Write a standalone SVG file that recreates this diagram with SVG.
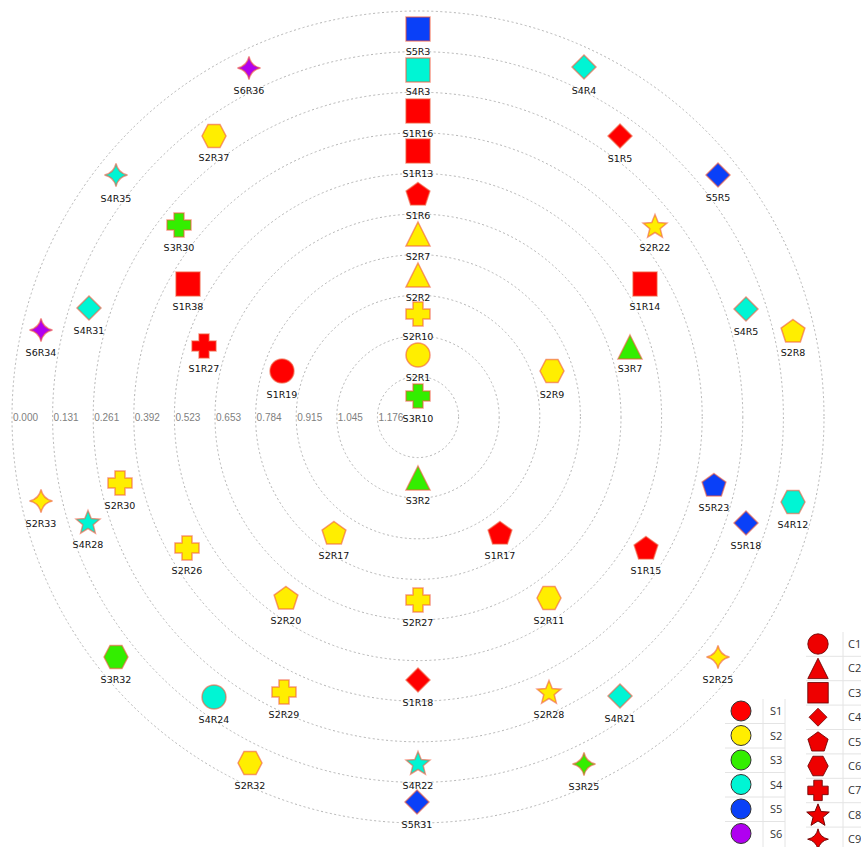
<svg xmlns="http://www.w3.org/2000/svg" width="861" height="847" viewBox="0 0 861 847">
<style>
.ring{fill:none;stroke:#b4b4b4;stroke-width:1;stroke-dasharray:2 2.5}
.tick{font-family:"Liberation Sans",Arial,sans-serif;font-size:10px;fill:#808080}
.lbl{font-family:"DejaVu Sans",Verdana,sans-serif;font-size:9.5px;fill:#111;text-anchor:middle}
.n{stroke:#f05a3c;stroke-opacity:0.6;stroke-width:1.5}
.s1{fill:#ff0000}.s2{fill:#ffee00}.s3{fill:#33ee00}.s4{fill:#00f5d4}.s5{fill:#0a40f8}.s6{fill:#b000f0}
.lg{stroke:#333;stroke-width:1}
.lc{fill:#ee0000;stroke:#6a0000;stroke-width:1}
.lt{font-family:"Open Sans","Liberation Sans",sans-serif;font-size:11px;fill:#333}
.grid{stroke:#e4e4e4;stroke-width:1}
</style>
<defs>
<circle id="c1" r="12"/>
<path id="c2" d="M0,-12 L12,12 L-12,12 Z"/>
<rect id="c3" x="-12" y="-12" width="24" height="24"/>
<path id="c4" d="M0,-12 L12,0 L0,12 L-12,0 Z"/>
<path id="c5" d="M0,-11.5 L11.9,-2.9 L7.35,11.1 L-7.35,11.1 L-11.9,-2.9 Z"/>
<path id="c6" d="M-12,0 L-6,-11.5 L6,-11.5 L12,0 L6,11.5 L-6,11.5 Z"/>
<path id="c7" d="M-5,-12 H5 V-5 H12 V5 H5 V12 H-5 V5 H-12 V-5 H-5 Z"/>
<path id="c8" d="M0,-11.5 L3.23,-3.45 L11.89,-2.86 L5.23,2.7 L7.35,11.11 L0,6.5 L-7.35,11.11 L-5.23,2.7 L-11.89,-2.86 L-3.23,-3.45 Z"/>
<path id="c9" d="M0,-11.5 Q2,-2 11.5,0 Q2,2 0,11.5 Q-2,2 -11.5,0 Q-2,-2 0,-11.5 Z"/>
</defs>
<rect width="861" height="847" fill="#fff"/>
<g id="rings">
<circle class="ring" cx="418" cy="417" r="40.6"/>
<circle class="ring" cx="418" cy="417" r="81.2"/>
<circle class="ring" cx="418" cy="417" r="121.8"/>
<circle class="ring" cx="418" cy="417" r="162.4"/>
<circle class="ring" cx="418" cy="417" r="203"/>
<circle class="ring" cx="418" cy="417" r="243.6"/>
<circle class="ring" cx="418" cy="417" r="284.2"/>
<circle class="ring" cx="418" cy="417" r="324.8"/>
<circle class="ring" cx="418" cy="417" r="365.4"/>
<circle class="ring" cx="418" cy="417" r="406"/>
</g>
<g id="ticks">
<text class="tick" x="13" y="421">0.000</text>
<text class="tick" x="53.6" y="421">0.131</text>
<text class="tick" x="94.2" y="421">0.261</text>
<text class="tick" x="134.8" y="421">0.392</text>
<text class="tick" x="175.4" y="421">0.523</text>
<text class="tick" x="216" y="421">0.653</text>
<text class="tick" x="256.6" y="421">0.784</text>
<text class="tick" x="297.2" y="421">0.915</text>
<text class="tick" x="337.8" y="421">1.045</text>
<text class="tick" x="378.4" y="421">1.176</text>
</g>
<g id="connectors"></g>
<g id="nodes">
<g id="S5R3"><use href="#c3" x="418" y="29" class="n s5"/><text class="lbl" x="418" y="55">S5R3</text></g>
<g id="S4R3"><use href="#c3" x="418" y="70" class="n s4"/><text class="lbl" x="418" y="95">S4R3</text></g>
<g id="S1R16"><use href="#c3" x="418" y="111" class="n s1"/><text class="lbl" x="418" y="137">S1R16</text></g>
<g id="S1R13"><use href="#c3" x="418" y="151" class="n s1"/><text class="lbl" x="418" y="177">S1R13</text></g>
<g id="S1R6"><use href="#c5" x="418" y="194" class="n s1"/><text class="lbl" x="418" y="219">S1R6</text></g>
<g id="S2R7"><use href="#c2" x="418" y="234" class="n s2"/><text class="lbl" x="418" y="260">S2R7</text></g>
<g id="S2R2"><use href="#c2" x="418" y="275" class="n s2"/><text class="lbl" x="418" y="301">S2R2</text></g>
<g id="S2R10"><use href="#c7" x="418" y="314" class="n s2"/><text class="lbl" x="418" y="340">S2R10</text></g>
<g id="S2R1"><use href="#c1" x="418" y="355" class="n s2"/><text class="lbl" x="418" y="381">S2R1</text></g>
<g id="S3R10"><use href="#c7" x="418" y="396" class="n s3"/><text class="lbl" x="418" y="422">S3R10</text></g>
<g id="S3R2"><use href="#c2" x="418" y="478" class="n s3"/><text class="lbl" x="418" y="504">S3R2</text></g>
<g id="S1R17"><use href="#c5" x="500" y="533" class="n s1"/><text class="lbl" x="500" y="559">S1R17</text></g>
<g id="S2R17"><use href="#c5" x="334" y="533" class="n s2"/><text class="lbl" x="334" y="559">S2R17</text></g>
<g id="S2R27"><use href="#c7" x="418" y="600" class="n s2"/><text class="lbl" x="418" y="626">S2R27</text></g>
<g id="S2R20"><use href="#c5" x="286" y="598" class="n s2"/><text class="lbl" x="286" y="624">S2R20</text></g>
<g id="S2R11"><use href="#c6" x="549" y="598" class="n s2"/><text class="lbl" x="549" y="624">S2R11</text></g>
<g id="S1R18"><use href="#c4" x="418" y="680" class="n s1"/><text class="lbl" x="418" y="706">S1R18</text></g>
<g id="S2R29"><use href="#c7" x="284" y="692" class="n s2"/><text class="lbl" x="284" y="718">S2R29</text></g>
<g id="S4R24"><use href="#c1" x="214" y="697" class="n s4"/><text class="lbl" x="214" y="723">S4R24</text></g>
<g id="S2R28"><use href="#c8" x="549" y="692" class="n s2"/><text class="lbl" x="549" y="718">S2R28</text></g>
<g id="S4R21"><use href="#c4" x="620" y="696" class="n s4"/><text class="lbl" x="620" y="722">S4R21</text></g>
<g id="S4R22"><use href="#c8" x="418" y="763" class="n s4"/><text class="lbl" x="418" y="789">S4R22</text></g>
<g id="S5R31"><use href="#c4" x="417" y="802" class="n s5"/><text class="lbl" x="417" y="828">S5R31</text></g>
<g id="S2R32"><use href="#c6" x="250" y="763" class="n s2"/><text class="lbl" x="250" y="789">S2R32</text></g>
<g id="S3R25"><use href="#c9" x="584" y="764" class="n s3"/><text class="lbl" x="584" y="790">S3R25</text></g>
<g id="S3R32"><use href="#c6" x="116" y="657" class="n s3"/><text class="lbl" x="116" y="683">S3R32</text></g>
<g id="S2R25"><use href="#c9" x="718" y="657" class="n s2"/><text class="lbl" x="718" y="683">S2R25</text></g>
<g id="S2R26"><use href="#c7" x="187" y="548" class="n s2"/><text class="lbl" x="187" y="574">S2R26</text></g>
<g id="S1R15"><use href="#c5" x="646" y="548" class="n s1"/><text class="lbl" x="646" y="574">S1R15</text></g>
<g id="S2R30"><use href="#c7" x="120" y="483" class="n s2"/><text class="lbl" x="120" y="509">S2R30</text></g>
<g id="S4R28"><use href="#c8" x="88" y="522" class="n s4"/><text class="lbl" x="88" y="548">S4R28</text></g>
<g id="S2R33"><use href="#c9" x="41" y="501" class="n s2"/><text class="lbl" x="41" y="527">S2R33</text></g>
<g id="S6R34"><use href="#c9" x="41" y="330" class="n s6"/><text class="lbl" x="41" y="356">S6R34</text></g>
<g id="S4R31"><use href="#c4" x="89" y="308" class="n s4"/><text class="lbl" x="89" y="334">S4R31</text></g>
<g id="S5R23"><use href="#c5" x="714" y="485" class="n s5"/><text class="lbl" x="714" y="511">S5R23</text></g>
<g id="S5R18"><use href="#c4" x="746" y="523" class="n s5"/><text class="lbl" x="746" y="549">S5R18</text></g>
<g id="S4R12"><use href="#c6" x="793" y="502" class="n s4"/><text class="lbl" x="793" y="528">S4R12</text></g>
<g id="S2R9"><use href="#c6" x="552" y="371" class="n s2"/><text class="lbl" x="552" y="398">S2R9</text></g>
<g id="S1R19"><use href="#c1" x="282" y="371" class="n s1"/><text class="lbl" x="282" y="398">S1R19</text></g>
<g id="S1R27"><use href="#c7" x="204" y="346" class="n s1"/><text class="lbl" x="204" y="372">S1R27</text></g>
<g id="S1R38"><use href="#c3" x="188" y="284" class="n s1"/><text class="lbl" x="188" y="310">S1R38</text></g>
<g id="S3R7"><use href="#c2" x="630" y="347" class="n s3"/><text class="lbl" x="630" y="372">S3R7</text></g>
<g id="S4R5"><use href="#c4" x="746" y="309" class="n s4"/><text class="lbl" x="746" y="335">S4R5</text></g>
<g id="S2R8"><use href="#c5" x="793" y="331" class="n s2"/><text class="lbl" x="793" y="356">S2R8</text></g>
<g id="S1R14"><use href="#c3" x="645" y="284" class="n s1"/><text class="lbl" x="645" y="310">S1R14</text></g>
<g id="S3R30"><use href="#c7" x="179" y="225" class="n s3"/><text class="lbl" x="179" y="251">S3R30</text></g>
<g id="S2R22"><use href="#c8" x="655" y="226" class="n s2"/><text class="lbl" x="655" y="251">S2R22</text></g>
<g id="S4R35"><use href="#c9" x="116" y="175" class="n s4"/><text class="lbl" x="116" y="202">S4R35</text></g>
<g id="S5R5"><use href="#c4" x="718" y="175" class="n s5"/><text class="lbl" x="718" y="201">S5R5</text></g>
<g id="S2R37"><use href="#c6" x="214" y="136" class="n s2"/><text class="lbl" x="214" y="161">S2R37</text></g>
<g id="S1R5"><use href="#c4" x="620" y="136" class="n s1"/><text class="lbl" x="620" y="162">S1R5</text></g>
<g id="S6R36"><use href="#c9" x="249" y="68" class="n s6"/><text class="lbl" x="249" y="94">S6R36</text></g>
<g id="S4R4"><use href="#c4" x="584" y="67" class="n s4"/><text class="lbl" x="584" y="94">S4R4</text></g>
</g>
<g id="legend-series">
<rect x="725" y="699" width="60" height="148" fill="#fff"/>
<line class="grid" x1="763" y1="699" x2="763" y2="847"/>
<line class="grid" x1="725" y1="723.5" x2="785" y2="723.5"/>
<line class="grid" x1="725" y1="748" x2="785" y2="748"/>
<line class="grid" x1="725" y1="772.5" x2="785" y2="772.5"/>
<line class="grid" x1="725" y1="797" x2="785" y2="797"/>
<line class="grid" x1="725" y1="821.5" x2="785" y2="821.5"/>
<line class="grid" x1="785" y1="699" x2="785" y2="847"/>
<circle class="lg s1" cx="741" cy="711" r="10"/><text class="lt" x="770" y="715">S1</text>
<circle class="lg s2" cx="741" cy="735.5" r="10"/><text class="lt" x="770" y="739.5">S2</text>
<circle class="lg s3" cx="741" cy="760" r="10"/><text class="lt" x="770" y="764">S3</text>
<circle class="lg s4" cx="741" cy="784.5" r="10"/><text class="lt" x="770" y="788.5">S4</text>
<circle class="lg s5" cx="741" cy="809" r="10"/><text class="lt" x="770" y="813">S5</text>
<circle class="lg s6" cx="741" cy="833.5" r="10"/><text class="lt" x="770" y="837.5">S6</text>
</g>
<g id="legend-shapes">
<rect x="806" y="632" width="60" height="215" fill="#fff"/>
<line class="grid" x1="843" y1="632" x2="843" y2="847"/>
<line class="grid" x1="806" y1="656.3" x2="861" y2="656.3"/>
<line class="grid" x1="806" y1="680.7" x2="861" y2="680.7"/>
<line class="grid" x1="806" y1="705.1" x2="861" y2="705.1"/>
<line class="grid" x1="806" y1="729.5" x2="861" y2="729.5"/>
<line class="grid" x1="806" y1="753.9" x2="861" y2="753.9"/>
<line class="grid" x1="806" y1="778.3" x2="861" y2="778.3"/>
<line class="grid" x1="806" y1="802.7" x2="861" y2="802.7"/>
<line class="grid" x1="806" y1="827.1" x2="861" y2="827.1"/>
<use href="#c1" transform="translate(818,644) scale(0.85)" class="lc"/><text class="lt" x="848" y="648">C1</text>
<use href="#c2" transform="translate(818,668.4) scale(0.85)" class="lc"/><text class="lt" x="848" y="672.4">C2</text>
<use href="#c3" transform="translate(818,692.8) scale(0.85)" class="lc"/><text class="lt" x="848" y="696.8">C3</text>
<use href="#c4" transform="translate(818,717.2) scale(0.75)" class="lc"/><text class="lt" x="848" y="721.2">C4</text>
<use href="#c5" transform="translate(818,741.6) scale(0.85)" class="lc"/><text class="lt" x="848" y="745.6">C5</text>
<use href="#c6" transform="translate(818,766) scale(0.85)" class="lc"/><text class="lt" x="848" y="770">C6</text>
<use href="#c7" transform="translate(818,790.4) scale(0.85)" class="lc"/><text class="lt" x="848" y="794.4">C7</text>
<use href="#c8" transform="translate(818,814.8) scale(0.95)" class="lc"/><text class="lt" x="848" y="818.8">C8</text>
<use href="#c9" transform="translate(818,839.2) scale(0.9)" class="lc"/><text class="lt" x="848" y="843.2">C9</text>
</g>
</svg>
